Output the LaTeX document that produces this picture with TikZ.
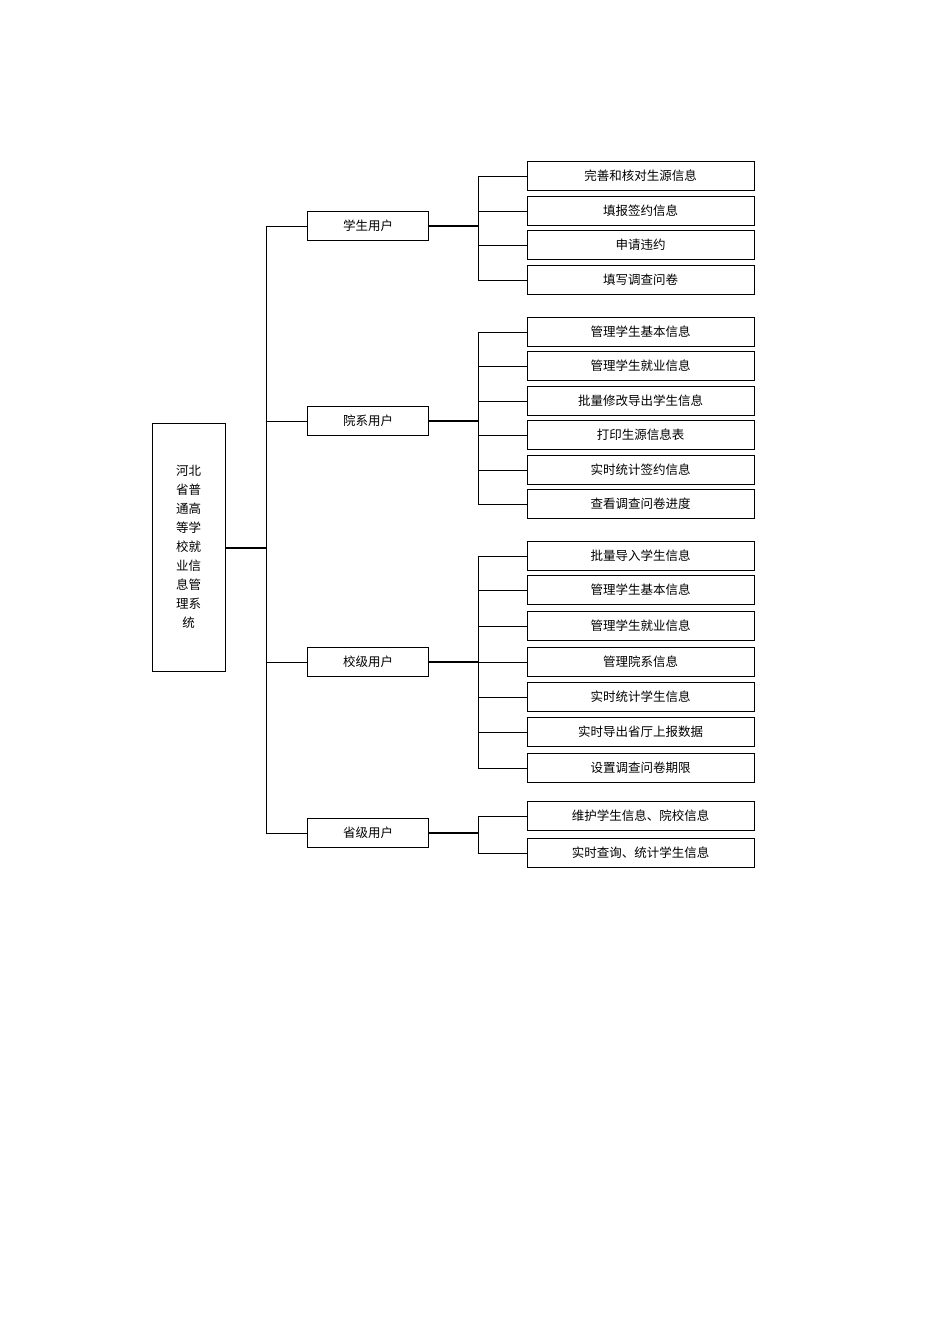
\documentclass[tikz,border=0pt]{standalone}
\usepackage{fontspec}
\setmainfont{Noto Sans CJK SC}
\begin{document}
\begin{tikzpicture}[x=1pt,y=-1pt,
  box/.style={draw,line width=0.9pt,minimum height=29pt,inner sep=0pt,font=\fontsize{12.5}{14}\selectfont},
  leaf/.style={box,minimum width=227pt},
  mid/.style={box,minimum width=121pt},
  ln/.style={line width=0.9pt}]
\useasboundingbox (0,0) rectangle (950,1344);
\node[draw,line width=0.9pt,minimum width=73pt,minimum height=248pt,inner sep=0pt,align=center,
  font=\fontsize{12.5}{19}\selectfont] (root) at (188.5,547) {河北\\省普\\通高\\等学\\校就\\业信\\息管\\理系\\统};
\coordinate (t) at (266,548);
\draw[line width=1.5pt] (root.east|-t) -- (t);
\coordinate (ttop) at (266,226);
\coordinate (tbot) at (266,833);
\draw[ln] (ttop) -- (tbot);
\foreach \n/\y/\txt/\leaves in {
 a/226/学生用户/{176/完善和核对生源信息,211/填报签约信息,245/申请违约,280/填写调查问卷},
 b/421/院系用户/{332/管理学生基本信息,366/管理学生就业信息,401/批量修改导出学生信息,435/打印生源信息表,470/实时统计签约信息,504/查看调查问卷进度},
 c/662/校级用户/{556/批量导入学生信息,590/管理学生基本信息,626/管理学生就业信息,662/管理院系信息,697/实时统计学生信息,732/实时导出省厅上报数据,768/设置调查问卷期限},
 d/833/省级用户/{816/维护学生信息、院校信息,853/实时查询、统计学生信息}} {
  \node[mid] (\n) at (368,\y) {\txt};
  \coordinate (\n t) at (266,\y);
  \coordinate (\n j) at (478,\y);
  \draw[ln] (\n t) -- (\n.west);
  \draw[line width=1.3pt] (\n.east) -- (\n j);
  \foreach \ly/\lt [count=\i] in \leaves {
    \node[leaf] (\n\i) at (640.5,\ly) {\lt};
    \coordinate (\n\i j) at (478,\ly);
    \draw[ln] (\n\i j) -- (\n\i.west);
  }
}
\draw[ln] (a1j) -- (a4j);
\draw[ln] (b1j) -- (b6j);
\draw[ln] (c1j) -- (c7j);
\draw[ln] (d1j) -- (d2j);
\end{tikzpicture}
\end{document}
